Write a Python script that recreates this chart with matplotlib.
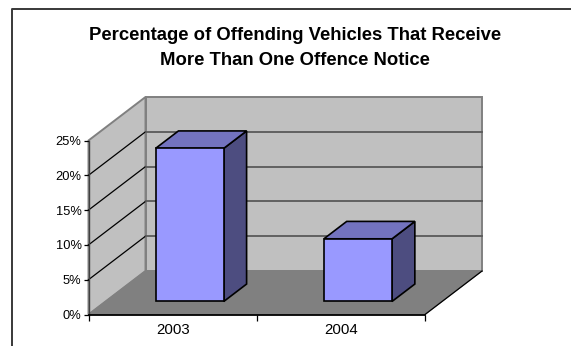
import matplotlib
matplotlib.use("Agg")
import matplotlib.pyplot as plt
from matplotlib.patches import Polygon
from matplotlib.lines import Line2D

categories = ["2003", "2004"]
values = [22, 9]
y_ticks = [0, 5, 10, 15, 20, 25]
title = "Percentage of Offending Vehicles That Receive\nMore Than One Offence Notice"

W, H = 571, 346
plt.rcParams["font.family"] = ["Liberation Sans", "DejaVu Sans"]
fig = plt.figure(figsize=(W / 100, H / 100), dpi=100)

# Pixel frame of the front plane of the chart
L, R, T, B = 88.5, 425, 140.5, 314.5
ax = fig.add_axes([L / W, 1 - B / H, (R - L) / W, (B - T) / H])
ax.set_xlim(0, len(categories))
ax.set_ylim(0, 25)
ax.patch.set_visible(False)

# Oblique depth of the 3-D box, in data units
DX = 57 / ((R - L) / len(categories))
DY = 43.5 / ((B - T) / 25)
WALL = "#c0c0c0"
EDGE = "#808080"


def pt(x, y, d):
    return (x + DX * d, y + DY * d)


def face(points, fc, ec="black", lw=1.2, z=2):
    ax.add_patch(Polygon(points, closed=True, fc=fc, ec=ec, lw=lw, zorder=z,
                         clip_on=False, joinstyle="miter"))


n = len(categories)
top = y_ticks[-1]
# back wall, side wall, floor
face([pt(0, 0, 1), pt(n, 0, 1), pt(n, top, 1), pt(0, top, 1)], WALL, EDGE, 1.4, 1)
face([pt(0, 0, 0), pt(0, 0, 1), pt(0, top, 1), pt(0, top, 0)], WALL, EDGE, 1.4, 1)
face([pt(0, 0, 0), pt(n, 0, 0), pt(n, 0, 1), pt(0, 0, 1)], EDGE, EDGE, 0.8, 1)

# gridlines
for v in y_ticks[1:-1]:
    a, b, c = pt(0, v, 0), pt(0, v, 1), pt(n, v, 1)
    ax.plot([a[0], b[0]], [a[1], b[1]], color="black", lw=0.9, zorder=1.5, clip_on=False)
    ax.plot([b[0], c[0]], [b[1], c[1]], color="#5a5a5a", lw=1.3, zorder=1.5, clip_on=False)

# outer right floor edge
a, b = pt(n, 0, 0), pt(n, 0, 1)
ax.plot([a[0], b[0]], [a[1], b[1]], color="black", lw=0.9, zorder=1.6, clip_on=False)

# bars
BAR_W = 0.405
D0, D1 = 0.3, 0.7
for i, v in enumerate(values):
    x0, x1 = i + 0.5 - BAR_W / 2, i + 0.5 + BAR_W / 2
    face([pt(x1, 0, D0), pt(x1, 0, D1), pt(x1, v, D1), pt(x1, v, D0)], "#4d4d80")
    face([pt(x0, v, D0), pt(x1, v, D0), pt(x1, v, D1), pt(x0, v, D1)], "#7373bf")
    face([pt(x0, 0, D0), pt(x1, 0, D0), pt(x1, v, D0), pt(x0, v, D0)], "#9999ff")

# axes
for s in ["top", "right"]:
    ax.spines[s].set_visible(False)
ax.spines["left"].set_linewidth(1.0)
ax.spines["bottom"].set_linewidth(1.3)
ax.spines["left"].set_color("#404040")
ax.spines["left"].set_zorder(3)
ax.spines["bottom"].set_zorder(3)
ax.set_yticks(y_ticks)
ax.set_yticklabels([f"{v}%" for v in y_ticks])
ax.set_xticks(range(n + 1))
ax.set_xticklabels([])
ax.set_xticks([i + 0.5 for i in range(n)], minor=True)
ax.set_xticklabels(categories, minor=True)
ax.tick_params(axis="x", which="major", direction="out", length=4, width=0.9, color="black")
ax.tick_params(axis="x", which="minor", length=0, labelsize=10.8, pad=6)
ax.tick_params(axis="y", direction="out", length=3.5, width=0.9, labelsize=9.3, pad=1.5)

# title
fig.text(295 / W, 1 - 48 / H, title, ha="center", va="center", fontsize=13.35,
         fontweight="bold", linespacing=1.68, color="black")

# chart frame (open on the right and bottom)
fig.add_artist(Line2D([12.3 / W, 12.3 / W, 1], [0, 1 - 9.3 / H, 1 - 9.3 / H],
                      color="#383838", lw=1.4))

fig.savefig("out.png", dpi=100)
